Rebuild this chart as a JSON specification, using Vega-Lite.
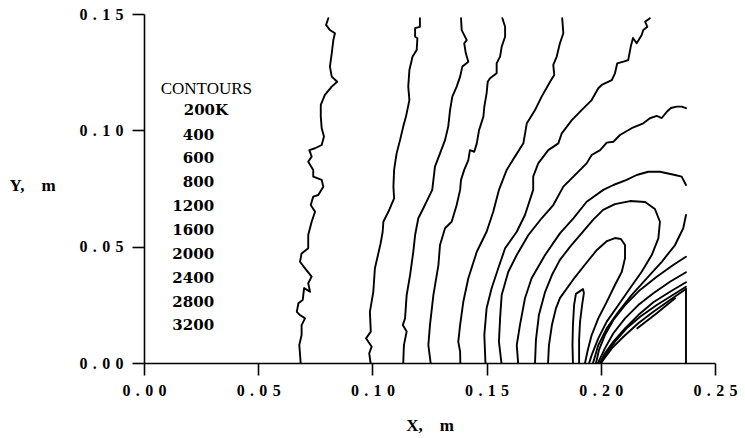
{
"$schema":"https://vega.github.io/schema/vega-lite/v6.json",
"width":571,"height":349,
"autosize":{"type":"none"},
"padding":{"left":144,"top":14,"right":30,"bottom":75},
"background":"white",
"config":{"view":{"stroke":null}},
"datasets":{
"contours":[
{"c":"L1","i":1,"x":0.0807,"y":0.1482},{"c":"L1","i":2,"x":0.0797,"y":0.1453},{"c":"L1","i":3,"x":0.0814,"y":0.1431},{"c":"L1","i":4,"x":0.0836,"y":0.1417},{"c":"L1","i":5,"x":0.0829,"y":0.1388},{"c":"L1","i":6,"x":0.0822,"y":0.1331},{"c":"L1","i":7,"x":0.0814,"y":0.1274},{"c":"L1","i":8,"x":0.0822,"y":0.1231},{"c":"L1","i":9,"x":0.0846,"y":0.1209},{"c":"L1","i":10,"x":0.0822,"y":0.1188},{"c":"L1","i":11,"x":0.0792,"y":0.1152},{"c":"L1","i":12,"x":0.0774,"y":0.1109},{"c":"L1","i":13,"x":0.0774,"y":0.1059},{"c":"L1","i":14,"x":0.0778,"y":0.1009},{"c":"L1","i":15,"x":0.0788,"y":0.0973},{"c":"L1","i":16,"x":0.0778,"y":0.0937},{"c":"L1","i":17,"x":0.0749,"y":0.0923},{"c":"L1","i":18,"x":0.0724,"y":0.0915},{"c":"L1","i":19,"x":0.0734,"y":0.0887},{"c":"L1","i":20,"x":0.0719,"y":0.0865},{"c":"L1","i":21,"x":0.0741,"y":0.0830},{"c":"L1","i":22,"x":0.0741,"y":0.0801},{"c":"L1","i":23,"x":0.0778,"y":0.0787},{"c":"L1","i":24,"x":0.0785,"y":0.0758},{"c":"L1","i":25,"x":0.0763,"y":0.0722},{"c":"L1","i":26,"x":0.0741,"y":0.0715},{"c":"L1","i":27,"x":0.0730,"y":0.0679},{"c":"L1","i":28,"x":0.0749,"y":0.0650},{"c":"L1","i":29,"x":0.0734,"y":0.0607},{"c":"L1","i":30,"x":0.0719,"y":0.0550},{"c":"L1","i":31,"x":0.0719,"y":0.0493},{"c":"L1","i":32,"x":0.0690,"y":0.0471},{"c":"L1","i":33,"x":0.0683,"y":0.0435},{"c":"L1","i":34,"x":0.0705,"y":0.0407},{"c":"L1","i":35,"x":0.0734,"y":0.0371},{"c":"L1","i":36,"x":0.0719,"y":0.0343},{"c":"L1","i":37,"x":0.0727,"y":0.0306},{"c":"L1","i":38,"x":0.0701,"y":0.0322},{"c":"L1","i":39,"x":0.0695,"y":0.0271},{"c":"L1","i":40,"x":0.0676,"y":0.0257},{"c":"L1","i":41,"x":0.0669,"y":0.0220},{"c":"L1","i":42,"x":0.0683,"y":0.0206},{"c":"L1","i":43,"x":0.0705,"y":0.0192},{"c":"L1","i":44,"x":0.0690,"y":0.0163},{"c":"L1","i":45,"x":0.0690,"y":0.0120},{"c":"L1","i":46,"x":0.0680,"y":0.0077},{"c":"L1","i":47,"x":0.0686,"y":0.0},
{"c":"L2","i":1,"x":0.1208,"y":0.1482},{"c":"L2","i":2,"x":0.1208,"y":0.1445},{"c":"L2","i":3,"x":0.1187,"y":0.1439},{"c":"L2","i":4,"x":0.1187,"y":0.1402},{"c":"L2","i":5,"x":0.1197,"y":0.1396},{"c":"L2","i":6,"x":0.1194,"y":0.1345},{"c":"L2","i":7,"x":0.1176,"y":0.1317},{"c":"L2","i":8,"x":0.1162,"y":0.1259},{"c":"L2","i":9,"x":0.1157,"y":0.1188},{"c":"L2","i":10,"x":0.1162,"y":0.1130},{"c":"L2","i":11,"x":0.1147,"y":0.1059},{"c":"L2","i":12,"x":0.1135,"y":0.1016},{"c":"L2","i":13,"x":0.1121,"y":0.0958},{"c":"L2","i":14,"x":0.1106,"y":0.0901},{"c":"L2","i":15,"x":0.1095,"y":0.0830},{"c":"L2","i":16,"x":0.1092,"y":0.0758},{"c":"L2","i":17,"x":0.1095,"y":0.0708},{"c":"L2","i":18,"x":0.1070,"y":0.0650},{"c":"L2","i":19,"x":0.1048,"y":0.0607},{"c":"L2","i":20,"x":0.1045,"y":0.0564},{"c":"L2","i":21,"x":0.1036,"y":0.0514},{"c":"L2","i":22,"x":0.1011,"y":0.0407},{"c":"L2","i":23,"x":0.1004,"y":0.0306},{"c":"L2","i":24,"x":0.0989,"y":0.0220},{"c":"L2","i":25,"x":0.0993,"y":0.0135},{"c":"L2","i":26,"x":0.0972,"y":0.0106},{"c":"L2","i":27,"x":0.0997,"y":0.0070},{"c":"L2","i":28,"x":0.0986,"y":0.0042},{"c":"L2","i":29,"x":0.0992,"y":0.0},
{"c":"L3","i":1,"x":0.1388,"y":0.1482},{"c":"L3","i":2,"x":0.1391,"y":0.1431},{"c":"L3","i":3,"x":0.1413,"y":0.1388},{"c":"L3","i":4,"x":0.1402,"y":0.1374},{"c":"L3","i":5,"x":0.1409,"y":0.1331},{"c":"L3","i":6,"x":0.1420,"y":0.1295},{"c":"L3","i":7,"x":0.1394,"y":0.1274},{"c":"L3","i":8,"x":0.1384,"y":0.1231},{"c":"L3","i":9,"x":0.1369,"y":0.1188},{"c":"L3","i":10,"x":0.1350,"y":0.1145},{"c":"L3","i":11,"x":0.1340,"y":0.1087},{"c":"L3","i":12,"x":0.1332,"y":0.1016},{"c":"L3","i":13,"x":0.1318,"y":0.0958},{"c":"L3","i":14,"x":0.1296,"y":0.0901},{"c":"L3","i":15,"x":0.1274,"y":0.0844},{"c":"L3","i":16,"x":0.1262,"y":0.0744},{"c":"L3","i":17,"x":0.1223,"y":0.0665},{"c":"L3","i":18,"x":0.1201,"y":0.0622},{"c":"L3","i":19,"x":0.1187,"y":0.0550},{"c":"L3","i":20,"x":0.1179,"y":0.0478},{"c":"L3","i":21,"x":0.1165,"y":0.0378},{"c":"L3","i":22,"x":0.1150,"y":0.0292},{"c":"L3","i":23,"x":0.1143,"y":0.0192},{"c":"L3","i":24,"x":0.1133,"y":0.0163},{"c":"L3","i":25,"x":0.1150,"y":0.0135},{"c":"L3","i":26,"x":0.1138,"y":0.0077},{"c":"L3","i":27,"x":0.1135,"y":0.0},
{"c":"L4","i":1,"x":0.1569,"y":0.1482},{"c":"L4","i":2,"x":0.1581,"y":0.1445},{"c":"L4","i":3,"x":0.1581,"y":0.1402},{"c":"L4","i":4,"x":0.1566,"y":0.1359},{"c":"L4","i":5,"x":0.1559,"y":0.1317},{"c":"L4","i":6,"x":0.1544,"y":0.1288},{"c":"L4","i":7,"x":0.1544,"y":0.1245},{"c":"L4","i":8,"x":0.1515,"y":0.1224},{"c":"L4","i":9,"x":0.1505,"y":0.1209},{"c":"L4","i":10,"x":0.1500,"y":0.1159},{"c":"L4","i":11,"x":0.1490,"y":0.1102},{"c":"L4","i":12,"x":0.1486,"y":0.1059},{"c":"L4","i":13,"x":0.1467,"y":0.1001},{"c":"L4","i":14,"x":0.1457,"y":0.0944},{"c":"L4","i":15,"x":0.1446,"y":0.0908},{"c":"L4","i":16,"x":0.1427,"y":0.0915},{"c":"L4","i":17,"x":0.1420,"y":0.0872},{"c":"L4","i":18,"x":0.1402,"y":0.0830},{"c":"L4","i":19,"x":0.1388,"y":0.0787},{"c":"L4","i":20,"x":0.1384,"y":0.0744},{"c":"L4","i":21,"x":0.1369,"y":0.0679},{"c":"L4","i":22,"x":0.1347,"y":0.0607},{"c":"L4","i":23,"x":0.1318,"y":0.0579},{"c":"L4","i":24,"x":0.1296,"y":0.0507},{"c":"L4","i":25,"x":0.1289,"y":0.0421},{"c":"L4","i":26,"x":0.1267,"y":0.0292},{"c":"L4","i":27,"x":0.1252,"y":0.0163},{"c":"L4","i":28,"x":0.1245,"y":0.0077},{"c":"L4","i":29,"x":0.1255,"y":0.0},
{"c":"L5","i":1,"x":0.1831,"y":0.1482},{"c":"L5","i":2,"x":0.1836,"y":0.1417},{"c":"L5","i":3,"x":0.1821,"y":0.1374},{"c":"L5","i":4,"x":0.1807,"y":0.1317},{"c":"L5","i":5,"x":0.1792,"y":0.1281},{"c":"L5","i":6,"x":0.1796,"y":0.1238},{"c":"L5","i":7,"x":0.1778,"y":0.1209},{"c":"L5","i":8,"x":0.1741,"y":0.1145},{"c":"L5","i":9,"x":0.1712,"y":0.1087},{"c":"L5","i":10,"x":0.1690,"y":0.1052},{"c":"L5","i":11,"x":0.1676,"y":0.1030},{"c":"L5","i":12,"x":0.1661,"y":0.0944},{"c":"L5","i":13,"x":0.1624,"y":0.0887},{"c":"L5","i":14,"x":0.1588,"y":0.0830},{"c":"L5","i":15,"x":0.1554,"y":0.0744},{"c":"L5","i":16,"x":0.1529,"y":0.0650},{"c":"L5","i":17,"x":0.1500,"y":0.0564},{"c":"L5","i":18,"x":0.1457,"y":0.0478},{"c":"L5","i":19,"x":0.1420,"y":0.0364},{"c":"L5","i":20,"x":0.1398,"y":0.0263},{"c":"L5","i":21,"x":0.1384,"y":0.0163},{"c":"L5","i":22,"x":0.1376,"y":0.0092},{"c":"L5","i":23,"x":0.1384,"y":0.0049},{"c":"L5","i":24,"x":0.1385,"y":0.0},
{"c":"L6","i":1,"x":0.2215,"y":0.1482},{"c":"L6","i":2,"x":0.2194,"y":0.1467},{"c":"L6","i":3,"x":0.2204,"y":0.1445},{"c":"L6","i":4,"x":0.2186,"y":0.1431},{"c":"L6","i":5,"x":0.2179,"y":0.1410},{"c":"L6","i":6,"x":0.2157,"y":0.1374},{"c":"L6","i":7,"x":0.2141,"y":0.1397},{"c":"L6","i":8,"x":0.2131,"y":0.1359},{"c":"L6","i":9,"x":0.2120,"y":0.1302},{"c":"L6","i":10,"x":0.2099,"y":0.1295},{"c":"L6","i":11,"x":0.2072,"y":0.1288},{"c":"L6","i":12,"x":0.2062,"y":0.1245},{"c":"L6","i":13,"x":0.2048,"y":0.1216},{"c":"L6","i":14,"x":0.2004,"y":0.1195},{"c":"L6","i":15,"x":0.1989,"y":0.1181},{"c":"L6","i":16,"x":0.1960,"y":0.1130},{"c":"L6","i":17,"x":0.1916,"y":0.1087},{"c":"L6","i":18,"x":0.1873,"y":0.1044},{"c":"L6","i":19,"x":0.1829,"y":0.0987},{"c":"L6","i":20,"x":0.1814,"y":0.0944},{"c":"L6","i":21,"x":0.1770,"y":0.0915},{"c":"L6","i":22,"x":0.1726,"y":0.0858},{"c":"L6","i":23,"x":0.1704,"y":0.0801},{"c":"L6","i":24,"x":0.1704,"y":0.0744},{"c":"L6","i":25,"x":0.1668,"y":0.0636},{"c":"L6","i":26,"x":0.1632,"y":0.0564},{"c":"L6","i":27,"x":0.1581,"y":0.0493},{"c":"L6","i":28,"x":0.1551,"y":0.0407},{"c":"L6","i":29,"x":0.1522,"y":0.0321},{"c":"L6","i":30,"x":0.1500,"y":0.0235},{"c":"L6","i":31,"x":0.1490,"y":0.0120},{"c":"L6","i":32,"x":0.1495,"y":0.0},
{"c":"L7","i":1,"x":0.2373,"y":0.1095},{"c":"L7","i":2,"x":0.2354,"y":0.1102},{"c":"L7","i":3,"x":0.2332,"y":0.1102},{"c":"L7","i":4,"x":0.2307,"y":0.1096},{"c":"L7","i":5,"x":0.2289,"y":0.1080},{"c":"L7","i":6,"x":0.2267,"y":0.1053},{"c":"L7","i":7,"x":0.2245,"y":0.1062},{"c":"L7","i":8,"x":0.2215,"y":0.1052},{"c":"L7","i":9,"x":0.2186,"y":0.1030},{"c":"L7","i":10,"x":0.2135,"y":0.1009},{"c":"L7","i":11,"x":0.2084,"y":0.0980},{"c":"L7","i":12,"x":0.2055,"y":0.0951},{"c":"L7","i":13,"x":0.2026,"y":0.0947},{"c":"L7","i":14,"x":0.1997,"y":0.0915},{"c":"L7","i":15,"x":0.1960,"y":0.0894},{"c":"L7","i":16,"x":0.1938,"y":0.0858},{"c":"L7","i":17,"x":0.1880,"y":0.0801},{"c":"L7","i":18,"x":0.1836,"y":0.0758},{"c":"L7","i":19,"x":0.1792,"y":0.0679},{"c":"L7","i":20,"x":0.1741,"y":0.0622},{"c":"L7","i":21,"x":0.1683,"y":0.0550},{"c":"L7","i":22,"x":0.1632,"y":0.0464},{"c":"L7","i":23,"x":0.1595,"y":0.0392},{"c":"L7","i":24,"x":0.1566,"y":0.0292},{"c":"L7","i":25,"x":0.1559,"y":0.0192},{"c":"L7","i":26,"x":0.1554,"y":0.0092},{"c":"L7","i":27,"x":0.1565,"y":0.0},
{"c":"L8","i":1,"x":0.2373,"y":0.0765},{"c":"L8","i":2,"x":0.2354,"y":0.0801},{"c":"L8","i":3,"x":0.2325,"y":0.0808},{"c":"L8","i":4,"x":0.2259,"y":0.0822},{"c":"L8","i":5,"x":0.2208,"y":0.0822},{"c":"L8","i":6,"x":0.2157,"y":0.0808},{"c":"L8","i":7,"x":0.2113,"y":0.0787},{"c":"L8","i":8,"x":0.2055,"y":0.0765},{"c":"L8","i":9,"x":0.2011,"y":0.0744},{"c":"L8","i":10,"x":0.1938,"y":0.0693},{"c":"L8","i":11,"x":0.1880,"y":0.0622},{"c":"L8","i":12,"x":0.1821,"y":0.0557},{"c":"L8","i":13,"x":0.1756,"y":0.0464},{"c":"L8","i":14,"x":0.1697,"y":0.0364},{"c":"L8","i":15,"x":0.1668,"y":0.0278},{"c":"L8","i":16,"x":0.1646,"y":0.0163},{"c":"L8","i":17,"x":0.1632,"y":0.0077},{"c":"L8","i":18,"x":0.1638,"y":0.0},
{"c":"O","i":1,"x":0.1712,"y":0.0},{"c":"O","i":2,"x":0.1716,"y":0.0099},{"c":"O","i":3,"x":0.1729,"y":0.0206},{"c":"O","i":4,"x":0.1756,"y":0.0305},{"c":"O","i":5,"x":0.1786,"y":0.0378},{"c":"O","i":6,"x":0.1821,"y":0.0443},{"c":"O","i":7,"x":0.1865,"y":0.0499},{"c":"O","i":8,"x":0.1909,"y":0.0550},{"c":"O","i":9,"x":0.1966,"y":0.0615},{"c":"O","i":10,"x":0.2010,"y":0.0658},{"c":"O","i":11,"x":0.2062,"y":0.0683},{"c":"O","i":12,"x":0.2128,"y":0.0696},{"c":"O","i":13,"x":0.2194,"y":0.0692},{"c":"O","i":14,"x":0.2237,"y":0.0662},{"c":"O","i":15,"x":0.2259,"y":0.0607},{"c":"O","i":16,"x":0.2252,"y":0.0536},{"c":"O","i":17,"x":0.2223,"y":0.0464},{"c":"O","i":18,"x":0.2179,"y":0.0392},{"c":"O","i":19,"x":0.2128,"y":0.0321},{"c":"O","i":20,"x":0.2077,"y":0.0249},{"c":"O","i":21,"x":0.2026,"y":0.0178},{"c":"O","i":22,"x":0.1989,"y":0.0106},{"c":"O","i":23,"x":0.1960,"y":0.0034},{"c":"O","i":24,"x":0.1949,"y":0.0},
{"c":"I","i":1,"x":0.1769,"y":0.0},{"c":"I","i":2,"x":0.1773,"y":0.0077},{"c":"I","i":3,"x":0.1786,"y":0.0163},{"c":"I","i":4,"x":0.1804,"y":0.0236},{"c":"I","i":5,"x":0.1821,"y":0.0279},{"c":"I","i":6,"x":0.1878,"y":0.0357},{"c":"I","i":7,"x":0.1940,"y":0.0434},{"c":"I","i":8,"x":0.1983,"y":0.0486},{"c":"I","i":9,"x":0.2027,"y":0.0524},{"c":"I","i":10,"x":0.2062,"y":0.0537},{"c":"I","i":11,"x":0.2088,"y":0.0533},{"c":"I","i":12,"x":0.2106,"y":0.0507},{"c":"I","i":13,"x":0.2106,"y":0.0450},{"c":"I","i":14,"x":0.2092,"y":0.0392},{"c":"I","i":15,"x":0.2062,"y":0.0335},{"c":"I","i":16,"x":0.2026,"y":0.0263},{"c":"I","i":17,"x":0.1989,"y":0.0192},{"c":"I","i":18,"x":0.1960,"y":0.0120},{"c":"I","i":19,"x":0.1943,"y":0.0056},{"c":"I","i":20,"x":0.1931,"y":0.0},
{"c":"F","i":1,"x":0.1878,"y":0.0},{"c":"F","i":2,"x":0.1876,"y":0.0077},{"c":"F","i":3,"x":0.1878,"y":0.0163},{"c":"F","i":4,"x":0.1883,"y":0.0249},{"c":"F","i":5,"x":0.1891,"y":0.0297},{"c":"F","i":6,"x":0.1909,"y":0.0309},{"c":"F","i":7,"x":0.1922,"y":0.0318},{"c":"F","i":8,"x":0.1926,"y":0.0301},{"c":"F","i":9,"x":0.1918,"y":0.0249},{"c":"F","i":10,"x":0.1909,"y":0.0176},{"c":"F","i":11,"x":0.1905,"y":0.0099},{"c":"F","i":12,"x":0.1905,"y":0.0},
{"c":"R1","i":1,"x":0.2373,"y":0.0636},{"c":"R1","i":2,"x":0.2361,"y":0.0579},{"c":"R1","i":3,"x":0.2325,"y":0.0507},{"c":"R1","i":4,"x":0.2267,"y":0.0435},{"c":"R1","i":5,"x":0.2201,"y":0.0364},{"c":"R1","i":6,"x":0.2135,"y":0.0292},{"c":"R1","i":7,"x":0.2077,"y":0.0220},{"c":"R1","i":8,"x":0.2026,"y":0.0149},{"c":"R1","i":9,"x":0.1989,"y":0.0077},{"c":"R1","i":10,"x":0.1966,"y":0.0},
{"c":"R2","i":1,"x":0.2373,"y":0.0457},{"c":"R2","i":2,"x":0.2317,"y":0.0421},{"c":"R2","i":3,"x":0.2245,"y":0.0371},{"c":"R2","i":4,"x":0.2172,"y":0.0314},{"c":"R2","i":5,"x":0.2106,"y":0.0249},{"c":"R2","i":6,"x":0.2055,"y":0.0185},{"c":"R2","i":7,"x":0.2018,"y":0.0120},{"c":"R2","i":8,"x":0.1992,"y":0.0056},{"c":"R2","i":9,"x":0.1979,"y":0.0},
{"c":"R3","i":1,"x":0.2373,"y":0.0390},{"c":"R3","i":2,"x":0.2303,"y":0.0349},{"c":"R3","i":3,"x":0.2230,"y":0.0300},{"c":"R3","i":4,"x":0.2164,"y":0.0249},{"c":"R3","i":5,"x":0.2106,"y":0.0192},{"c":"R3","i":6,"x":0.2055,"y":0.0128},{"c":"R3","i":7,"x":0.2018,"y":0.0063},{"c":"R3","i":8,"x":0.1988,"y":0.0},
{"c":"R4","i":1,"x":0.2373,"y":0.0347},{"c":"R4","i":2,"x":0.2303,"y":0.0306},{"c":"R4","i":3,"x":0.2230,"y":0.0261},{"c":"R4","i":4,"x":0.2164,"y":0.0206},{"c":"R4","i":5,"x":0.2106,"y":0.0149},{"c":"R4","i":6,"x":0.2055,"y":0.0092},{"c":"R4","i":7,"x":0.2018,"y":0.0042},{"c":"R4","i":8,"x":0.1997,"y":0.0},
{"c":"R5","i":1,"x":0.2373,"y":0.0328},{"c":"R5","i":2,"x":0.2303,"y":0.0285},{"c":"R5","i":3,"x":0.2245,"y":0.0249},{"c":"R5","i":4,"x":0.2172,"y":0.0199},{"c":"R5","i":5,"x":0.2113,"y":0.0149},{"c":"R5","i":6,"x":0.2062,"y":0.0092},{"c":"R5","i":7,"x":0.2026,"y":0.0042},{"c":"R5","i":8,"x":0.2001,"y":0.0},
{"c":"R6","i":1,"x":0.2373,"y":0.0318},{"c":"R6","i":2,"x":0.2303,"y":0.0271},{"c":"R6","i":3,"x":0.2230,"y":0.0220},{"c":"R6","i":4,"x":0.2164,"y":0.0171},{"c":"R6","i":5,"x":0.2099,"y":0.0113},{"c":"R6","i":6,"x":0.2048,"y":0.0063},{"c":"R6","i":7,"x":0.2001,"y":0.0},
{"c":"D","i":1,"x":0.2160,"y":0.0149},{"c":"D","i":2,"x":0.2245,"y":0.0214},{"c":"D","i":3,"x":0.2325,"y":0.0278},
{"c":"B","i":1,"x":0.2373,"y":0.0318},{"c":"B","i":2,"x":0.2373,"y":0.0}
],
"legend":[
{"label":"200K","x":0.0368,"y":0.1087},
{"label":"400","x":0.0307,"y":0.0980},
{"label":"600","x":0.0307,"y":0.0881},
{"label":"800","x":0.0307,"y":0.0778},
{"label":"1200","x":0.0307,"y":0.0675},
{"label":"1600","x":0.0307,"y":0.0572},
{"label":"2000","x":0.0307,"y":0.0468},
{"label":"2400","x":0.0307,"y":0.0365},
{"label":"2800","x":0.0307,"y":0.0262},
{"label":"3200","x":0.0307,"y":0.0163}
]
},
"layer":[
{
"data":{"name":"contours"},
"mark":{"type":"line","color":"black","strokeWidth":1.9,"strokeJoin":"round","strokeCap":"round"},
"encoding":{
"x":{"field":"x","type":"quantitative","scale":{"domain":[0,0.25],"nice":false,"zero":false},
"axis":{"values":[0,0.05,0.1,0.15,0.2,0.25],"grid":false,"tickSize":12,"tickColor":"black","tickWidth":1.6,"domainColor":"black","domainWidth":1.6,
"labelFont":"Liberation Serif","labelFontSize":16,"labelFontWeight":"bold","labelColor":"black","labelPadding":7,"labelFlush":false,"labelOverlap":false,
"labelExpr":"join(split(format(datum.value, '.2f'), ''), '\u2004')",
"title":"X,\u2003m","titleFont":"Liberation Serif","titleFontSize":17,"titleFontWeight":"bold","titleColor":"black","titleY":62,"titleBaseline":"middle"}},
"y":{"field":"y","type":"quantitative","scale":{"domain":[0,0.15],"nice":false,"zero":false},
"axis":{"values":[0,0.05,0.1,0.15],"grid":false,"tickSize":12,"tickColor":"black","tickWidth":1.6,"domainColor":"black","domainWidth":1.6,
"labelFont":"Liberation Serif","labelFontSize":16,"labelFontWeight":"bold","labelColor":"black","labelPadding":9,"labelFlush":false,"labelOverlap":false,"labelBaseline":"middle",
"labelExpr":"join(split(format(datum.value, '.2f'), ''), '\u2004')",
"title":"Y,\u2003m","titleFont":"Liberation Serif","titleFontSize":17,"titleFontWeight":"bold","titleColor":"black","titleAngle":0,"titleX":-112,"titleY":171,"titleAlign":"center","titleBaseline":"middle"}},
"detail":{"field":"c","type":"nominal"},
"order":{"field":"i","type":"quantitative"}
}
},
{
"data":{"values":[{"t":"CONTOURS","x":0.0473,"y":0.1178}]},
"mark":{"type":"text","align":"right","baseline":"middle","font":"Liberation Serif","fontSize":17,"color":"black"},
"encoding":{
"x":{"field":"x","type":"quantitative"},
"y":{"field":"y","type":"quantitative"},
"text":{"field":"t","type":"nominal"}
}
},
{
"data":{"name":"legend"},
"mark":{"type":"text","align":"right","baseline":"middle","font":"DejaVu Serif","fontWeight":"bold","fontSize":15,"color":"black"},
"encoding":{
"x":{"field":"x","type":"quantitative"},
"y":{"field":"y","type":"quantitative"},
"text":{"field":"label","type":"nominal"}
}
}
]
}
